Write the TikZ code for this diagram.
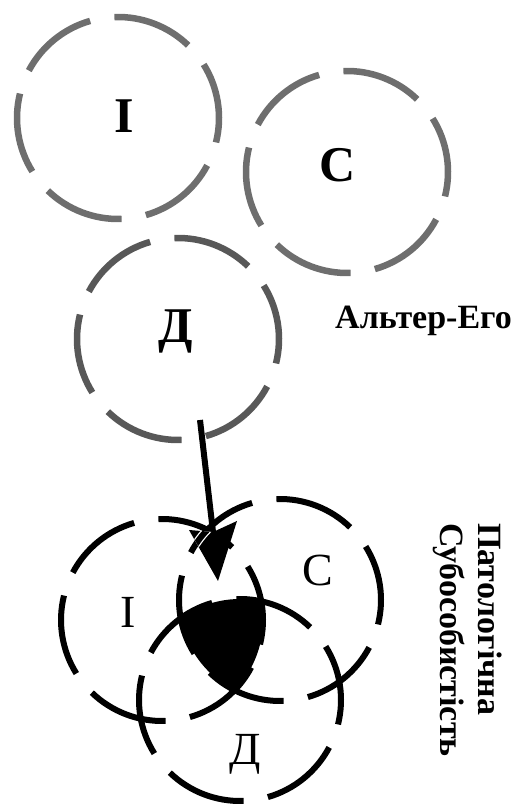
\documentclass[tikz,border=0pt]{standalone}
\usepackage{fontspec}
\setmainfont{Liberation Serif}
\definecolor{ringgray}{RGB}{110,110,110}
\definecolor{ringdark}{RGB}{88,88,88}
\newcommand{\ringdashes}[3]{%
  \foreach \k in {0,...,5}{%
    \draw[#3] (#1) ++({46+60*\k}:#2) arc[start angle={46+60*\k}, end angle={92+60*\k}, radius=#2];
  }%
}
\tikzset{
  grayring/.style={draw=ringgray, line width=6.5pt},
  darkring/.style={draw=ringdark, line width=6.5pt},
  blackring/.style={draw=black, line width=6pt},
  topletter/.style={font=\fontsize{50pt}{50pt}\selectfont\bfseries, inner sep=0pt, anchor=base},
  botletter/.style={font=\fontsize{46pt}{46pt}\selectfont, inner sep=0pt, anchor=base},
  caption/.style={font=\fontsize{34pt}{34pt}\selectfont\bfseries, inner sep=0pt, anchor=base west},
  vcaption/.style={font=\fontsize{34pt}{34pt}\selectfont\bfseries, inner sep=0pt, anchor=base west, rotate=-90},
  shaft/.style={draw=black, line width=6pt},
}
\begin{document}
\begin{tikzpicture}[x=1pt, y=1pt]
\useasboundingbox (0,0) rectangle (517,808);
% centres
\coordinate (tI) at (118,690);
\coordinate (tC) at (347,636);
\coordinate (tD) at (178,469);
\coordinate (bI) at (162,188);
\coordinate (bC) at (280,208);
\coordinate (bD) at (240,108);
% top rings
\ringdashes{tI}{101}{grayring}
\ringdashes{tC}{101}{grayring}
\ringdashes{tD}{101}{darkring}
% top letters
\node[topletter] (lI) at (124,675) {І};
\node[topletter] (lC) at (338,626) {С};
\node[topletter] (lD) at (175.5,465) {Д};
\node[caption] (alter) at (335,479) {Альтер-Его};
% central intersection
\begin{scope}
  \clip (bI) circle[radius=101];
  \clip (bC) circle[radius=101];
  \fill[black] (bD) circle[radius=101];
\end{scope}
% bottom rings
\ringdashes{bI}{101}{blackring}
\ringdashes{bC}{101}{blackring}
\ringdashes{bD}{101}{blackring}
% arrow
\coordinate (atail) at (200,388);
\coordinate (aback) at (213,276);
\coordinate (atip) at (218,227);
\coordinate (abl) at (189,278);
\coordinate (abr) at (237,287);
\draw[shaft] (atail) -- (aback);
\fill[black] (atip) -- (abl) -- (aback) -- (abr) -- cycle;
\begin{scope}
  \clip (atip) -- (abl) -- (aback) -- (abr) -- cycle;
  \draw[white, line width=8.5pt] (bC) ++(106:101) arc[start angle=106, end angle=152, radius=101];
  \draw[blackring] (bC) ++(106:101) arc[start angle=106, end angle=152, radius=101];
\end{scope}
% bottom letters
\node[botletter] (mI) at (128.5,180) {І};
\node[botletter] (mC) at (317.5,222) {С};
\node[botletter] (mD) at (245.5,43) {Д};
% vertical caption
\node[vcaption] (pat) at (478,285) {Патологічна};
\node[vcaption] (sub) at (440,285) {Субособистість};
\end{tikzpicture}
\end{document}
